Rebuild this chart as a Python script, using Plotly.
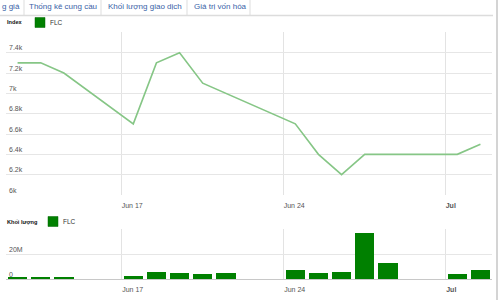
import pandas as pd
import plotly.graph_objects as go

W, H = 501, 300

dates = ["2013-06-12", "2013-06-13", "2013-06-14", "2013-06-17", "2013-06-18",
         "2013-06-19", "2013-06-20", "2013-06-21", "2013-06-24", "2013-06-25",
         "2013-06-26", "2013-06-27", "2013-06-28", "2013-07-01", "2013-07-02"]
index_values = [7300, 7300, 7200, 6700, 7300, 7400, 7100, 7000, 6700, 6400,
                6200, 6400, 6400, 6400, 6500]
volume_m = [1.2, 1.5, 1.2, 2.4, 5.3, 4.8, 4.2, 5.0, 6.9, 5.0, 5.8, 36.8, 13.0,
            4.0, 6.9]

tab_labels = ["g giá", "Thống kê cung cầu", "Khối lượng giao dịch", "Giá trị vốn hóa"]
x_tick_dates = ["2013-06-17", "2013-06-24", "2013-07-01"]
x_tick_text = ["Jun 17", "Jun 24", "<b>Jul</b>"]
idx_tickvals = [6000, 6200, 6400, 6600, 6800, 7000, 7200, 7400, 7600]
idx_ticktext = ["6k", "6.2k", "6.4k", "6.6k", "6.8k", "7k", "7.2k", "7.4k", ""]
vol_tickvals = [0, 20e6, 40e6]
vol_ticktext = ["0", "20M", ""]

xs = pd.to_datetime(dates) + pd.Timedelta(hours=12)
vol = [v * 1e6 for v in volume_m]

def px_x(p):
    return p / W

def px_y(p):
    return 1 - p / H

fig = go.Figure()
fig.add_trace(go.Scatter(x=xs, y=index_values, mode="lines", name="FLC",
                         line=dict(color="#86c686", width=1.6),
                         xaxis="x", yaxis="y", showlegend=False))
fig.add_trace(go.Bar(x=xs, y=vol, name="FLC", marker=dict(color="#008000", line=dict(width=0)),
                     width=0.84 * 86400000, xaxis="x2", yaxis="y2", showlegend=False))

xr = ["2013-06-12 00:00", "2013-07-03 00:00"]
tickfont = dict(family="Liberation Sans, Arial, sans-serif", size=7, color="#555555")
xcommon = dict(type="date", range=xr, domain=[px_x(6), px_x(492)],
               tickvals=x_tick_dates, ticktext=x_tick_text, showgrid=True,
               gridcolor="#e3e3e3", gridwidth=1, zeroline=False, ticks="",
               tickfont=tickfont, ticklabelposition="outside right")
fig.update_layout(
    width=W, height=H, margin=dict(l=0, r=0, t=0, b=0, pad=0),
    paper_bgcolor="white", plot_bgcolor="white", bargap=0,
    xaxis=dict(anchor="y", showline=False, ticklabelstandoff=5, **xcommon),
    xaxis2=dict(anchor="y2", showline=True, linecolor="#c8c8c8", linewidth=1,
                ticklabelstandoff=3, **xcommon),
    yaxis=dict(domain=[px_y(195), px_y(32.4)], range=[6000, 7600], tickvals=idx_tickvals,
               ticktext=idx_ticktext, showgrid=True, gridcolor="#e6e6e6", zeroline=False,
               ticklabelposition="inside top", tickfont=tickfont, anchor="x"),
    yaxis2=dict(domain=[px_y(279.3), px_y(229.3)], range=[0, 40e6], tickvals=vol_tickvals,
                ticktext=vol_ticktext, showgrid=True, gridcolor="#e6e6e6", zeroline=False,
                ticklabelposition="inside top", tickfont=tickfont, anchor="x2"),
)

# Tab bar
tab_x = [0, 27, 106, 192]
sep_x = [24, 101, 187, 250]
tab_font = dict(family="Liberation Sans, Arial, sans-serif", size=8, color="#3a62a7")
for t, x in zip(tab_labels, tab_x):
    fig.add_annotation(x=px_x(x), y=px_y(7), xref="paper", yref="paper", text=t,
                       showarrow=False, xanchor="left", yanchor="middle", font=tab_font)
for x in sep_x:
    fig.add_shape(type="line", xref="paper", yref="paper", x0=px_x(x), x1=px_x(x),
                  y0=px_y(0), y1=px_y(15), line=dict(color="#dddddd", width=1))
fig.add_shape(type="line", xref="paper", yref="paper", x0=0, x1=px_x(493),
              y0=px_y(15.5), y1=px_y(15.5), line=dict(color="#dcdcdc", width=1.5))
fig.add_shape(type="line", xref="paper", yref="paper", x0=px_x(497), x1=px_x(497),
              y0=0, y1=1, line=dict(color="#d4d4d4", width=2))

# Legends
leg_font_b = dict(family="Liberation Sans, Arial, sans-serif", size=5.6, color="#111111")
leg_font = dict(family="Liberation Sans, Arial, sans-serif", size=6.5, color="#333333")
for label, ly, sq_x in [("Index", 22.5, 35), ("Khối lượng", 221.5, 48)]:
    fig.add_annotation(x=px_x(5), y=px_y(ly), xref="paper", yref="paper",
                       text="<b>" + label + "</b>", showarrow=False, xanchor="left",
                       yanchor="middle", font=leg_font_b)
    fig.add_shape(type="rect", xref="paper", yref="paper", x0=px_x(sq_x), x1=px_x(sq_x + 10),
                  y0=px_y(ly - 5), y1=px_y(ly + 5), fillcolor="#008000",
                  line=dict(color="#006600", width=0.5))
    fig.add_annotation(x=px_x(sq_x + 13), y=px_y(ly), xref="paper", yref="paper",
                       text="FLC", showarrow=False, xanchor="left", yanchor="middle",
                       font=leg_font)

fig.write_html("out.html")
